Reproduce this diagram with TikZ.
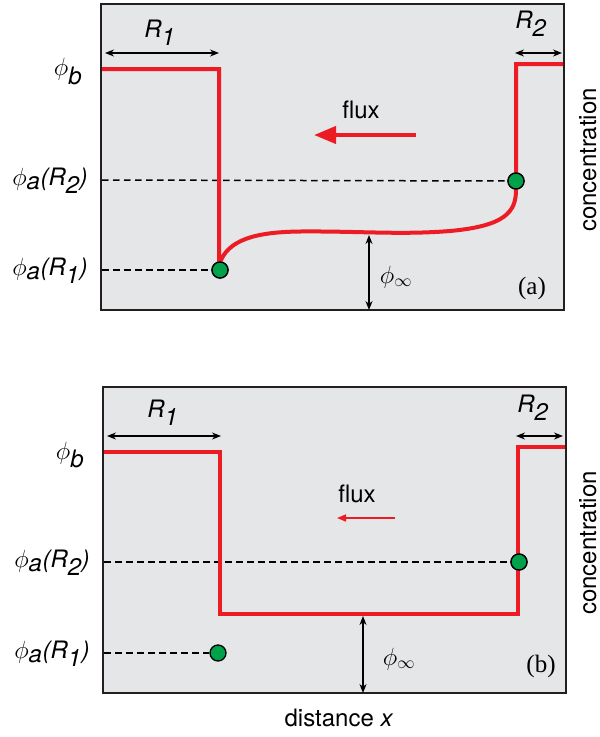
\documentclass[tikz,border=0pt]{standalone}
\usepackage{fontspec}
\setmainfont{TeX Gyre Heros}
\newfontfamily\seriffont{Liberation Serif}
\usetikzlibrary{arrows.meta}
\definecolor{panelgray}{HTML}{E5E6E8}
\definecolor{curvered}{HTML}{ED1C24}
\definecolor{dotgreen}{HTML}{00A14B}
\definecolor{framegray}{HTML}{231F20}
\tikzset{
  panel/.style={draw=framegray, line width=2pt, fill=panelgray},
  profile/.style={draw=curvered, line width=4pt, line join=miter},
  guide/.style={draw=black, line width=1.5pt, dash pattern=on 6.5pt off 4.5pt},
  dim/.style={draw=black, line width=1.3pt, {Stealth[length=9pt,width=7pt]}-{Stealth[length=9pt,width=7pt]}},
  rdot/.style={circle, draw=black, line width=1.3pt, fill=dotgreen, minimum size=16pt, inner sep=0pt},
  lbl/.style={font=\fontsize{24}{28}\selectfont, inner sep=0pt},
  tag/.style={font=\seriffont\fontsize{25}{29}\selectfont, inner sep=0pt},
  axlbl/.style={font=\fontsize{24}{28}\selectfont, inner sep=0pt, rotate=90, anchor=base},
}
\newcommand{\ph}[1]{$\phi_{\textit{#1}}$}
\newcommand{\phR}[1]{$\phi_{\textit{a}}\textit{(R}_{\textit{#1}}\textit{)}$}
\begin{document}
\begin{tikzpicture}[x=1pt,y=-1pt]
\useasboundingbox (0,0) rectangle (600,737);
% ---------------- panel (a)
\path[panel] (101,4) rectangle (564,310);
\coordinate (aL1) at (102,180);
\coordinate (aL2) at (102,270);
\node[rdot] (aD2) at (516,181) {};
\node[rdot] (aD1) at (220,270) {};
\draw[guide] (aL1) -- (aD2.west);
\draw[guide] (aL2) -- (aD1.west);
\draw[profile] (102,69) -- (219,69) -- (219,266)
  .. controls (226,238) and (260,232) .. (300,231.5)
  .. controls (360,231) and (400,235) .. (450,231)
  .. controls (505,226) and (516,212) .. (516,190) -- (516,64) -- (563,64);
\node[rdot] at (220,270) {};
\node[rdot] at (516,181) {};
\coordinate (aR1a) at (105,53); \coordinate (aR1b) at (219,53);
\draw[dim] (aR1a) -- (aR1b);
\node[lbl] (aR1) at (160,33) {\textit{R}$_{\textit{1}}$};
\coordinate (aR2a) at (515,53); \coordinate (aR2b) at (562,53);
\draw[dim] (aR2a) -- (aR2b);
\node[lbl] (aR2) at (531,24) {\textit{R}$_{\textit{2}}$};
\node[lbl] (aflux) at (361,110) {flux};
\coordinate (afs) at (416,135); \coordinate (afe) at (314,135);
\draw[curvered, line width=4pt, -{Triangle[length=22pt,width=17pt]}] (afs) -- (afe);
\coordinate (aia) at (369,235); \coordinate (aib) at (369,310);
\draw[dim] (aia) -- (aib);
\node[lbl] (ainf) at (396,277) {$\phi_{\infty}$};
\node[tag] (atag) at (532,288) {(a)};
\node[lbl] (aphib) at (68,72) {\ph{b}};
\node[lbl] (aphi2) at (50,181) {\phR{2}};
\node[lbl] (aphi1) at (50,271) {\phR{1}};
\node[axlbl] (aconc) at (596,160) {concentration};
% ---------------- panel (b)
\path[panel] (103,387) rectangle (566,693);
\coordinate (bL1) at (104,562);
\coordinate (bL2) at (104,653);
\node[rdot] (bD2) at (519,562) {};
\node[rdot] (bD1) at (218,653) {};
\draw[guide] (bL1) -- (bD2.west);
\draw[guide] (bL2) -- (bD1.west);
\draw[profile] (104,452) -- (220,452) -- (220,614) -- (518,614) -- (518,447) -- (565,447);
\node[rdot] at (519,562) {};
\coordinate (bR1a) at (107,436); \coordinate (bR1b) at (221,436);
\draw[dim] (bR1a) -- (bR1b);
\node[lbl] (bR1) at (163,413) {\textit{R}$_{\textit{1}}$};
\coordinate (bR2a) at (516,436); \coordinate (bR2b) at (563,436);
\draw[dim] (bR2a) -- (bR2b);
\node[lbl] (bR2) at (533,408) {\textit{R}$_{\textit{2}}$};
\node[lbl] (bflux) at (357,494) {flux};
\coordinate (bfs) at (395,518); \coordinate (bfe) at (337,518);
\draw[curvered, line width=1.6pt, -{Triangle[length=9pt,width=7pt]}] (bfs) -- (bfe);
\coordinate (bia) at (363,616); \coordinate (bib) at (363,693);
\draw[dim] (bia) -- (bib);
\node[lbl] (binf) at (399,659) {$\phi_{\infty}$};
\node[tag] (btag) at (541,666) {(b)};
\node[lbl] (bphib) at (70,455) {\ph{b}};
\node[lbl] (bphi2) at (52,563) {\phR{2}};
\node[lbl] (bphi1) at (52,654) {\phR{1}};
\node[axlbl] (bconc) at (596,543) {concentration};
\node[lbl] (dist) at (339,718) {distance \textit{x}};
\end{tikzpicture}
\end{document}
